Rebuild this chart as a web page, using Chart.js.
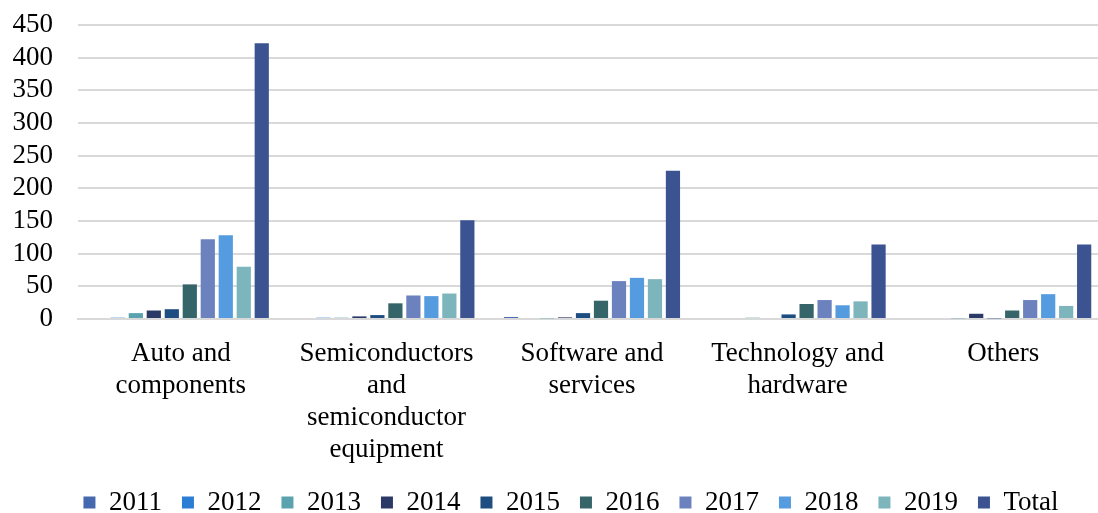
<!DOCTYPE html>
<html>
<head>
<meta charset="utf-8">
<script src="https://cdn.jsdelivr.net/npm/chart.js@4.4.1/dist/chart.umd.min.js"></script>
<style>
  html, body { margin: 0; padding: 0; background: #fff; overflow: hidden; }
  #wrap { position: relative; width: 1106px; height: 513px; }
</style>
</head>
<body>
<div id="wrap"><canvas id="chart"></canvas></div>
<script>
// Sectors (multi-line axis labels)
const categories = [
  ["Auto and", "components"],
  ["Semiconductors", "and", "semiconductor", "equipment"],
  ["Software and", "services"],
  ["Technology and", "hardware"],
  ["Others"]
];

// Series names shown in the legend
const seriesNames = ["2011", "2012", "2013", "2014", "2015", "2016", "2017", "2018", "2019", "Total"];

// Values per series, one per sector
const s2011 = [0, 0, 3, 0, 0];
const s2012 = [2, 2, 0, 0, 0];
const s2013 = [9, 2, 1, 2, 1];
const s2014 = [13, 4, 2.5, 0, 8];
const s2015 = [15, 6, 9, 7, 1];
const s2016 = [53, 24, 28, 23, 13];
const s2017 = [122, 36, 58, 29, 29];
const s2018 = [128, 35, 63, 21, 38];
const s2019 = [80, 39, 61, 27, 20];
const sTotal = [422, 151, 227, 114, 114];

// Y axis ticks
const yTicks = [0, 50, 100, 150, 200, 250, 300, 350, 400, 450];

const seriesValues = [s2011, s2012, s2013, s2014, s2015, s2016, s2017, s2018, s2019, sTotal];
const seriesColors = ["#4668ae", "#2a7fd4", "#5aa2ad", "#2b3966", "#1e4d82",
                      "#356569", "#6b82bf", "#559bdf", "#7db5bd", "#3b5390"];

const FONT = "'Liberation Serif', 'Times New Roman', serif";

const datasets = seriesNames.map((name, i) => ({
  label: name,
  data: seriesValues[i],
  backgroundColor: seriesColors[i],
  borderWidth: 0,
  barPercentage: 0.79,
  categoryPercentage: 0.875
}));

// Nudges the legend row to the right so it sits under the plot area
const legendShift = {
  id: "legendShift",
  afterLayout(chart) {
    const lg = chart.legend;
    if (lg) { lg.left += 18; lg.right += 18; }
  }
};

new Chart(document.getElementById("chart"), {
  type: "bar",
  data: { labels: categories, datasets },
  plugins: [legendShift],
  options: {
    responsive: true,
    maintainAspectRatio: false,
    animation: false,
    layout: { padding: { left: 0, right: 0, top: 25, bottom: -13 } },
    plugins: {
      tooltip: { enabled: false },
      legend: {
        position: "bottom",
        labels: {
          color: "#000",
          font: { family: FONT, size: 27 },
          boxWidth: 12,
          boxHeight: 12,
          padding: 20
        }
      }
    },
    scales: {
      x: {
        grid: { display: false, drawTicks: false },
        border: { display: true, color: "#d9d9d9", width: 2 },
        ticks: {
          color: "#000",
          font: { family: FONT, size: 27, lineHeight: 1.185 },
          maxRotation: 0,
          autoSkip: false,
          padding: 19
        },
        afterFit: (scale) => { scale.height = 150; }
      },
      y: {
        min: 0,
        max: 450,
        afterBuildTicks: (scale) => { scale.ticks = yTicks.map(v => ({ value: v })); },
        grid: { color: "#d9d9d9", lineWidth: 2, drawTicks: true, tickLength: 25, tickColor: "rgba(0,0,0,0)" },
        border: { display: false },
        ticks: {
          color: "#000",
          font: { family: FONT, size: 27 },
          padding: 0,
          autoSkip: false
        },
        afterFit: (scale) => { scale.width = 78; }
      }
    }
  }
});
</script>
</body>
</html>
